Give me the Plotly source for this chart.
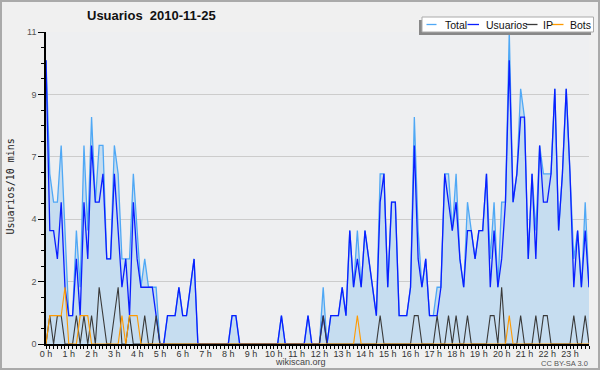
import plotly.graph_objects as go

# ---- data (10-minute slots, 2010-11-25) ----
minutes = list(range(0, 1440, 10))
hour_ticks = list(range(0, 1440, 60))
hour_labels = [f"{h} h" for h in range(24)]
y_tickvals = [0, 2.2, 4.4, 6.6, 8.8, 11]
y_ticktext = ["0", "2", "4", "7", "9", "11"]

usuarios = [10, 4, 4, 3, 5, 2, 1, 1, 3, 1, 5, 3, 7, 5, 5, 6, 3, 3, 6, 4, 2, 3, 1, 5,
            3, 2, 2, 2, 2, 1, 0, 0, 1, 1, 1, 2, 1, 1, 2, 3, 0, 0, 0, 0, 0, 0, 0, 0,
            0, 1, 1, 0, 0, 0, 0, 0, 0, 0, 0, 0, 0, 0, 1, 0, 0, 0, 0, 0, 0, 1, 0, 0,
            0, 1, 0, 1, 1, 1, 2, 1, 4, 2, 3, 2, 4, 3, 2, 1, 5, 6, 2, 5, 5, 1, 1, 1,
            2, 7, 3, 2, 3, 1, 1, 1, 2, 6, 5, 4, 5, 3, 2, 4, 4, 3, 4, 4, 6, 2, 4, 2,
            3, 5, 10, 5, 6, 8, 8, 3, 6, 3, 7, 5, 5, 6, 9, 4, 6, 9, 6, 2, 4, 2, 4, 2]

ip = [0, 1, 0, 1, 1, 0, 0, 0, 1, 0, 1, 0, 1, 0, 2, 1, 0, 0, 1, 2, 0, 0, 1, 0,
      0, 0, 1, 0, 0, 1, 0, 0, 0, 0, 0, 0, 0, 0, 0, 0, 0, 0, 0, 0, 0, 0, 0, 0,
      0, 0, 0, 0, 0, 0, 0, 0, 0, 0, 0, 0, 0, 0, 0, 0, 0, 0, 0, 0, 0, 0, 0, 0,
      0, 1, 0, 0, 0, 0, 0, 0, 0, 0, 0, 0, 0, 0, 0, 0, 1, 0, 0, 0, 0, 0, 0, 0,
      0, 1, 1, 0, 0, 0, 0, 1, 0, 0, 1, 0, 1, 0, 0, 1, 0, 0, 0, 0, 0, 1, 1, 0,
      2, 0, 0, 0, 0, 1, 0, 0, 0, 1, 0, 1, 1, 0, 0, 0, 0, 0, 0, 1, 0, 0, 1, 0]

bots = [0, 1, 1, 1, 1, 2, 0, 0, 0, 1, 1, 1, 0, 0, 0, 0, 0, 0, 0, 0, 1, 0, 1, 1,
        1, 0, 0, 0, 0, 0, 0, 0, 0, 0, 0, 0, 0, 0, 0, 0, 0, 0, 0, 0, 0, 0, 0, 0,
        0, 0, 0, 0, 0, 0, 0, 0, 0, 0, 0, 0, 0, 0, 0, 0, 0, 0, 0, 0, 0, 0, 0, 0,
        0, 0, 0, 0, 0, 0, 0, 0, 0, 0, 1, 0, 0, 0, 0, 0, 0, 0, 0, 0, 0, 0, 0, 0,
        0, 0, 0, 0, 0, 0, 0, 0, 0, 0, 0, 0, 0, 0, 0, 0, 0, 0, 0, 0, 0, 0, 0, 0,
        0, 0, 1, 0, 0, 0, 0, 0, 0, 0, 0, 0, 0, 0, 0, 0, 0, 0, 0, 0, 0, 0, 0, 0]

total = [10, 6, 5, 5, 7, 4, 1, 1, 4, 2, 7, 4, 8, 5, 7, 7, 3, 3, 7, 6, 3, 3, 3, 6,
         4, 2, 3, 2, 2, 2, 0, 0, 1, 1, 1, 2, 1, 1, 2, 3, 0, 0, 0, 0, 0, 0, 0, 0,
         0, 1, 1, 0, 0, 0, 0, 0, 0, 0, 0, 0, 0, 0, 1, 0, 0, 0, 0, 0, 0, 1, 0, 0,
         0, 2, 0, 1, 1, 1, 2, 1, 4, 2, 4, 2, 4, 3, 2, 1, 6, 6, 2, 5, 5, 1, 1, 1,
         2, 8, 4, 2, 3, 1, 1, 2, 2, 6, 6, 4, 6, 3, 2, 5, 4, 3, 4, 4, 6, 3, 5, 2,
         5, 5, 11, 5, 6, 9, 8, 3, 6, 4, 7, 6, 6, 6, 9, 4, 6, 9, 6, 3, 4, 2, 5, 2]

# ---- layout geometry (pixels) ----
W, H = 600, 370
L, R, T, B = 46, 11, 32, 26
PW, PH = W - L - R, H - T - B


def px(x):
    return (x - L) / PW


def py(y):
    return (H - B - y) / PH


fig = go.Figure()
fig.add_trace(go.Scatter(x=minutes, y=total, name="Total", mode="lines",
                         line=dict(color="#4fa8f5", width=1.3),
                         fill="tozeroy", fillcolor="rgba(198,221,240,1)",
                         showlegend=False))
fig.add_trace(go.Scatter(x=minutes, y=usuarios, name="Usuarios", mode="lines",
                         line=dict(color="#0a1eff", width=1.3), showlegend=False))
fig.add_trace(go.Scatter(x=minutes, y=ip, name="IP", mode="lines",
                         line=dict(color="#3a3a3a", width=1.1), showlegend=False))
fig.add_trace(go.Scatter(x=minutes, y=bots, name="Bots", mode="lines",
                         line=dict(color="#ff9a00", width=1.1), showlegend=False))

shapes = []
annotations = []

# outer border
shapes.append(dict(type="rect", xref="paper", yref="paper",
                   x0=px(1), x1=px(599), y0=py(369), y1=py(1),
                   line=dict(color="#aaaaaa", width=2), layer="below"))

# manual legend with shadow
shapes.append(dict(type="rect", xref="paper", yref="paper",
                   x0=px(419), x1=px(591), y0=py(35), y1=py(20),
                   fillcolor="#888888", line=dict(width=0), layer="above"))
shapes.append(dict(type="rect", xref="paper", yref="paper",
                   x0=px(422), x1=px(593.5), y0=py(32), y1=py(17),
                   fillcolor="white", line=dict(color="#aaaaaa", width=1), layer="above"))
legend_items = [("Total", "#4fa8f5", 426.5, 436.5, 442.5),
                ("Usuarios", "#0a1eff", 467.5, 479, 484),
                ("IP", "#3a3a3a", 526, 537.5, 541),
                ("Bots", "#ff9a00", 551.5, 563.5, 567.5)]
for name, col, lx0, lx1, tx in legend_items:
    shapes.append(dict(type="line", xref="paper", yref="paper",
                       x0=px(lx0), x1=px(lx1), y0=py(24.5), y1=py(24.5),
                       line=dict(color=col, width=1.3), layer="above"))
    annotations.append(dict(text=name, xref="paper", yref="paper",
                            x=px(tx), y=py(24.5), xanchor="left", yanchor="middle",
                            showarrow=False,
                            font=dict(family="Liberation Sans", size=10.5, color="#111")))

# title
annotations.append(dict(text="<b>Usuarios  2010-11-25</b>", xref="paper", yref="paper",
                        x=px(151), y=py(16), xanchor="center", yanchor="middle",
                        showarrow=False,
                        font=dict(family="Liberation Sans", size=13, color="#111")))
# y axis title
annotations.append(dict(text="Usuarios/10 mins", xref="paper", yref="paper",
                        x=px(9.5), y=py(187), xanchor="center", yanchor="middle",
                        textangle=-90, showarrow=False,
                        font=dict(family="DejaVu Sans Mono", size=10, color="#222")))
# footer
annotations.append(dict(text="wikiscan.org", xref="paper", yref="paper",
                        x=px(300.5), y=py(362), xanchor="center", yanchor="middle",
                        showarrow=False,
                        font=dict(family="Liberation Sans", size=9, color="#444")))
annotations.append(dict(text="CC BY-SA 3.0", xref="paper", yref="paper",
                        x=px(590), y=py(363), xanchor="right", yanchor="middle",
                        showarrow=False,
                        font=dict(family="Liberation Sans", size=7.5, color="#555")))

fig.update_layout(
    width=W, height=H, autosize=False,
    margin=dict(l=L, r=R, t=T, b=B, pad=0),
    paper_bgcolor="#f0f0f0", plot_bgcolor="#eeeff1",
    shapes=shapes, annotations=annotations,
    showlegend=False,
)
fig.update_xaxes(range=[0, 1430], tickvals=hour_ticks, ticktext=hour_labels,
                 ticks="", showline=True, linecolor="black", linewidth=1.5,
                 showgrid=False, zeroline=False, automargin=False,
                 tickfont=dict(family="Liberation Sans", size=9, color="#333"),
                 minor=dict(dtick=10, tick0=0, ticks="outside", ticklen=3,
                            tickcolor="black", tickwidth=1, showgrid=False))
fig.update_yaxes(range=[0, 11], tickvals=y_tickvals, ticktext=y_ticktext,
                 ticks="outside", ticklen=6, tickcolor="black", tickwidth=1,
                 showline=True, linecolor="black", linewidth=1.5,
                 showgrid=True, gridcolor="#cccccc", gridwidth=1, zeroline=False,
                 automargin=False,
                 tickfont=dict(family="Liberation Sans", size=9, color="#555"),
                 minor=dict(tickvals=[i * 0.55 for i in range(21)], ticks="outside",
                            ticklen=3, tickcolor="black", tickwidth=1, showgrid=False))

fig.write_html("out.html",
               config={"displayModeBar": False, "responsive": False},
               post_script="document.body.style.margin='0';document.body.style.overflow='hidden';")
